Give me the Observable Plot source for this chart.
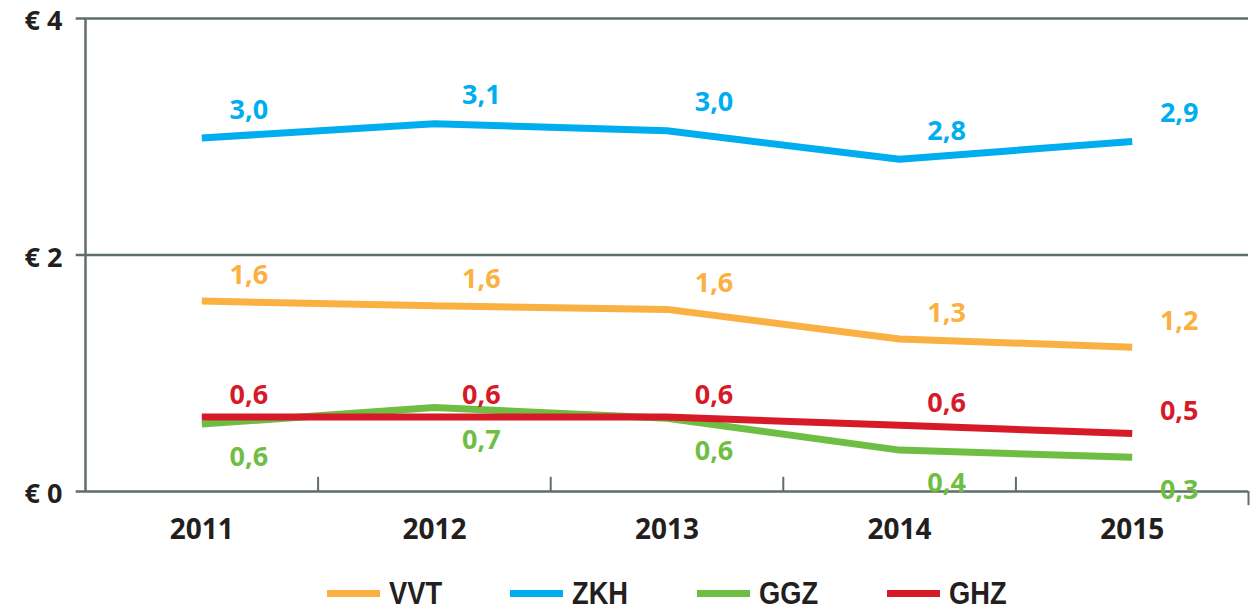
<!DOCTYPE html>
<html>
<head>
<meta charset="utf-8">
<script src="https://cdn.jsdelivr.net/npm/d3@7"></script>
<script src="https://cdn.jsdelivr.net/npm/@observablehq/plot@0.6"></script>
<style>
  html, body { margin: 0; padding: 0; background: #fff; overflow: hidden; }
  #chart svg { display: block; }
  #legend { display: flex; justify-content: center; align-items: center; padding-left: 85px; height: 36px; }
  .item { display: flex; align-items: center; margin: 0 34px; }
  .sw { width: 53px; height: 7px; margin-right: 9px; }
  .lb { display: inline-block; font-family: "Liberation Sans", "DejaVu Sans", sans-serif; font-weight: bold; font-size: 31px; line-height: 1; color: #231f20; transform: scaleX(0.88); transform-origin: left center; margin-right: -7px; }
</style>
</head>
<body>
<div id="chart"></div>
<div id="legend"></div>
<script>
const years = [2011, 2012, 2013, 2014, 2015];
const vvt = [1.61, 1.57, 1.54, 1.29, 1.22];
const zkh = [2.99, 3.11, 3.05, 2.81, 2.96];
const ggz = [0.57, 0.71, 0.62, 0.35, 0.29];
const ghz = [0.63, 0.63, 0.63, 0.56, 0.49];
const vvtLabels = ["1,6", "1,6", "1,6", "1,3", "1,2"];
const zkhLabels = ["3,0", "3,1", "3,0", "2,8", "2,9"];
const ggzLabels = ["0,6", "0,7", "0,6", "0,4", "0,3"];
const ghzLabels = ["0,6", "0,6", "0,6", "0,6", "0,5"];
const seriesNames = ["VVT", "ZKH", "GGZ", "GHZ"];
const seriesColors = ["#fbb042", "#00aeef", "#6fbe44", "#d71a28"];
const yTicks = [0, 2, 4];
const gridValues = [2, 4];

const axisColor = "#5f6e66";
const textColor = "#231f20";
const font = "'Open Sans', 'Noto Sans', sans-serif";

const seriesValues = [vvt, zkh, ggz, ghz];
const seriesLabels = [vvtLabels, zkhLabels, ggzLabels, ghzLabels];
const labelDy = {VVT: -26, ZKH: -28, GGZ: 33, GHZ: -22};

const rows = [];
seriesNames.forEach((name, i) => {
  years.forEach((yr, j) => {
    rows.push({series: name, year: yr, value: seriesValues[i][j], label: seriesLabels[i][j]});
  });
});

const xMin = d3.min(years) - 0.5;
const xMax = d3.max(years) + 0.5;
const boundaries = years.slice(0, -1).map(y => y + 0.5);

const marks = [
  Plot.ruleY(gridValues, {stroke: axisColor, strokeWidth: 2.5}),
  Plot.ruleY([0], {stroke: axisColor, strokeWidth: 2.5}),
  Plot.ruleX([xMin], {y1: 0, y2: 4, stroke: axisColor, strokeWidth: 2.5}),
  Plot.ruleX(boundaries, {y1: 0, y2: 0.12, stroke: axisColor, strokeWidth: 2}),
  Plot.ruleX([xMax], {y1: 0, y2: -0.12, stroke: axisColor, strokeWidth: 2}),
  Plot.ruleY(yTicks, {x1: () => xMin - 0.04, x2: () => xMin, stroke: axisColor, strokeWidth: 2.5}),
  Plot.text(yTicks, {
    x: () => xMin, y: d => d, text: d => "€ " + d, dx: -23, dy: 3,
    textAnchor: "end", fill: textColor, fontSize: 27, fontWeight: "bold"
  }),
  Plot.text(years, {
    x: d => d, y: () => 0, text: d => String(d), dy: 39,
    fill: textColor, fontSize: 28, fontWeight: "bold", textAnchor: "middle"
  })
];

seriesNames.forEach((name, i) => {
  const data = rows.filter(r => r.series === name);
  marks.push(Plot.lineY(data, {
    x: "year", y: "value", stroke: seriesColors[i], strokeWidth: 7,
    strokeLinecap: "butt", strokeLinejoin: "miter"
  }));
});
seriesNames.forEach((name, i) => {
  const data = rows.filter(r => r.series === name);
  marks.push(Plot.text(data, {
    x: "year", y: "value", text: "label", fill: seriesColors[i],
    dx: 47, dy: labelDy[name], fontSize: 27, fontWeight: "bold", textAnchor: "middle"
  }));
});

const chart = Plot.plot({
  width: 1250,
  height: 575,
  marginLeft: 85,
  marginRight: 2,
  marginTop: 18,
  marginBottom: 84,
  style: {fontFamily: font, background: "#fff", overflow: "visible"},
  x: {type: "linear", domain: [xMin, xMax], axis: null},
  y: {domain: [0, 4], axis: null},
  marks
});
document.getElementById("chart").appendChild(chart);

const legend = document.getElementById("legend");
seriesNames.forEach((name, i) => {
  const item = document.createElement("div");
  item.className = "item";
  const sw = document.createElement("div");
  sw.className = "sw";
  sw.style.background = seriesColors[i];
  const lb = document.createElement("span");
  lb.className = "lb";
  lb.textContent = name;
  item.appendChild(sw);
  item.appendChild(lb);
  legend.appendChild(item);
});
</script>
</body>
</html>
